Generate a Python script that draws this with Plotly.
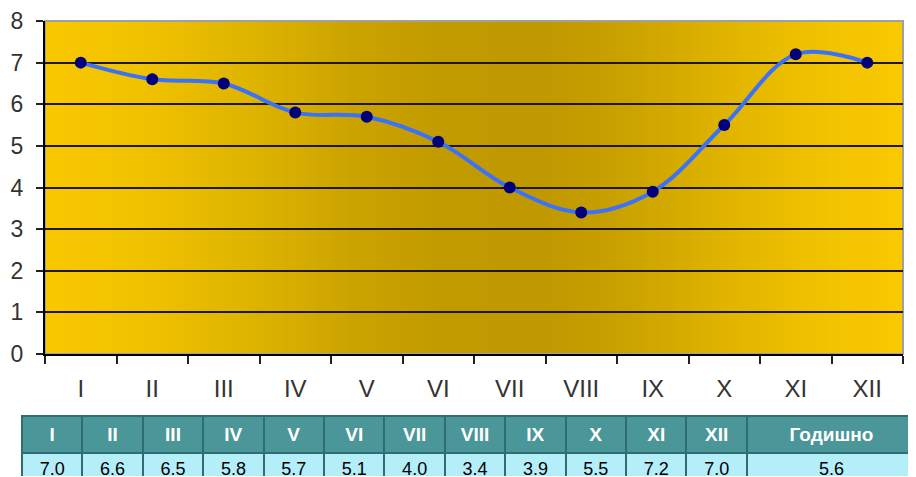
import base64, struct, zlib
import plotly.graph_objects as go

months = ["I", "II", "III", "IV", "V", "VI", "VII", "VIII", "IX", "X", "XI", "XII"]
values = [7.0, 6.6, 6.5, 5.8, 5.7, 5.1, 4.0, 3.4, 3.9, 5.5, 7.2, 7.0]
annual_label = "Годишно"
annual_value = 5.6
y_ticks = [0, 1, 2, 3, 4, 5, 6, 7, 8]

# page body has an 8px margin; figure is sized to fill the rest of the window
OFF = 8
W, H = 916 - OFF, 477 - OFF

def px(x):  # window x -> paper fraction
    return (x - OFF) / W

def py(y):  # window y -> paper fraction
    return 1 - (y - OFF) / H

# --- gradient background image (horizontal) ---
stops = [(0.0, (248, 200, 0)), (0.12, (240, 193, 0)), (0.24, (222, 180, 0)),
         (0.36, (203, 163, 0)), (0.47, (193, 154, 0)), (0.58, (192, 152, 0)),
         (0.66, (200, 160, 0)), (0.76, (218, 175, 0)), (0.88, (238, 192, 0)),
         (1.0, (249, 201, 0))]

def col_at(t):
    for (t0, c0), (t1, c1) in zip(stops[:-1], stops[1:]):
        if t0 <= t <= t1:
            f = (t - t0) / (t1 - t0) if t1 > t0 else 0
            return tuple(int(round(a + (b - a) * f)) for a, b in zip(c0, c1))
    return stops[-1][1]

def png_uri(width):
    row = b"\x00" + b"".join(bytes(col_at(i / (width - 1))) for i in range(width))
    def chunk(tag, data):
        c = struct.pack(">I", len(data)) + tag + data
        return c + struct.pack(">I", zlib.crc32(tag + data) & 0xffffffff)
    png = b"\x89PNG\r\n\x1a\n"
    png += chunk(b"IHDR", struct.pack(">IIBBBBB", width, 1, 8, 2, 0, 0, 0))
    png += chunk(b"IDAT", zlib.compress(row))
    png += chunk(b"IEND", b"")
    return "data:image/png;base64," + base64.b64encode(png).decode()

x0, x1 = px(45), px(903)
y0, y1 = py(354), py(21)

fig = go.Figure()
fig.add_trace(go.Scatter(
    x=months, y=values, mode="lines+markers",
    line=dict(color="#3b72f7", width=4, shape="spline", smoothing=1),
    marker=dict(color="#00007a", size=12),
    showlegend=False, hoverinfo="x+y"))

fig.add_trace(go.Table(
    domain=dict(x=[px(22), 1.0], y=[0, py(416)]),
    columnwidth=[60] * 12 + [168],
    header=dict(values=[f"<b>{m}</b>" for m in months] + [f"<b>{annual_label}</b>"],
                fill_color="#4a9699", line=dict(color="#2f6e70", width=2),
                font=dict(family="Liberation Sans, Arial", size=19, color="white"),
                align="center", height=32),
    cells=dict(values=[[f"{v:.1f}"] for v in values] + [[f"{annual_value:.1f}"]],
               fill_color="#b4eef9", line=dict(color="#2f6e70", width=2),
               font=dict(family="Liberation Sans, Arial", size=18, color="black"),
               align="center", height=30),
))

fig.update_layout(
    width=W, height=H,
    margin=dict(l=0, r=0, t=0, b=0),
    paper_bgcolor="white", plot_bgcolor="rgba(0,0,0,0)",
    images=[dict(source=png_uri(256), xref="paper", yref="paper",
                 x=x0, y=y1, sizex=x1 - x0, sizey=y1 - y0, sizing="stretch",
                 xanchor="left", yanchor="top", layer="below")],
    shapes=[dict(type="rect", xref="paper", yref="paper", x0=x0, x1=x1, y0=y0, y1=y1,
                 line=dict(color="#a0a0a0", width=2), layer="below")],
    xaxis=dict(domain=[x0, x1], type="category", categoryarray=months,
               range=[-0.5, 11.5], tickson="boundaries", ticks="outside",
               ticklen=8, tickwidth=2, tickcolor="#222", automargin=False,
               showline=True, linecolor="black", linewidth=2, showgrid=False,
               tickfont=dict(family="Liberation Sans Narrow, Liberation Sans", size=24, color="#333"),
               ticklabelstandoff=12, fixedrange=True),
    yaxis=dict(domain=[y0, y1], range=[0, 8], tickvals=y_ticks, ticks="outside",
               ticklen=7, tickwidth=2, tickcolor="#222", automargin=False,
               showline=True, linecolor="black", linewidth=2,
               showgrid=True, gridcolor="#1e1800", gridwidth=2, zeroline=False,
               tickfont=dict(family="Liberation Sans, Arial", size=23, color="#333"),
               ticklabelstandoff=8, fixedrange=True),
)

fig.write_html("out.html")
